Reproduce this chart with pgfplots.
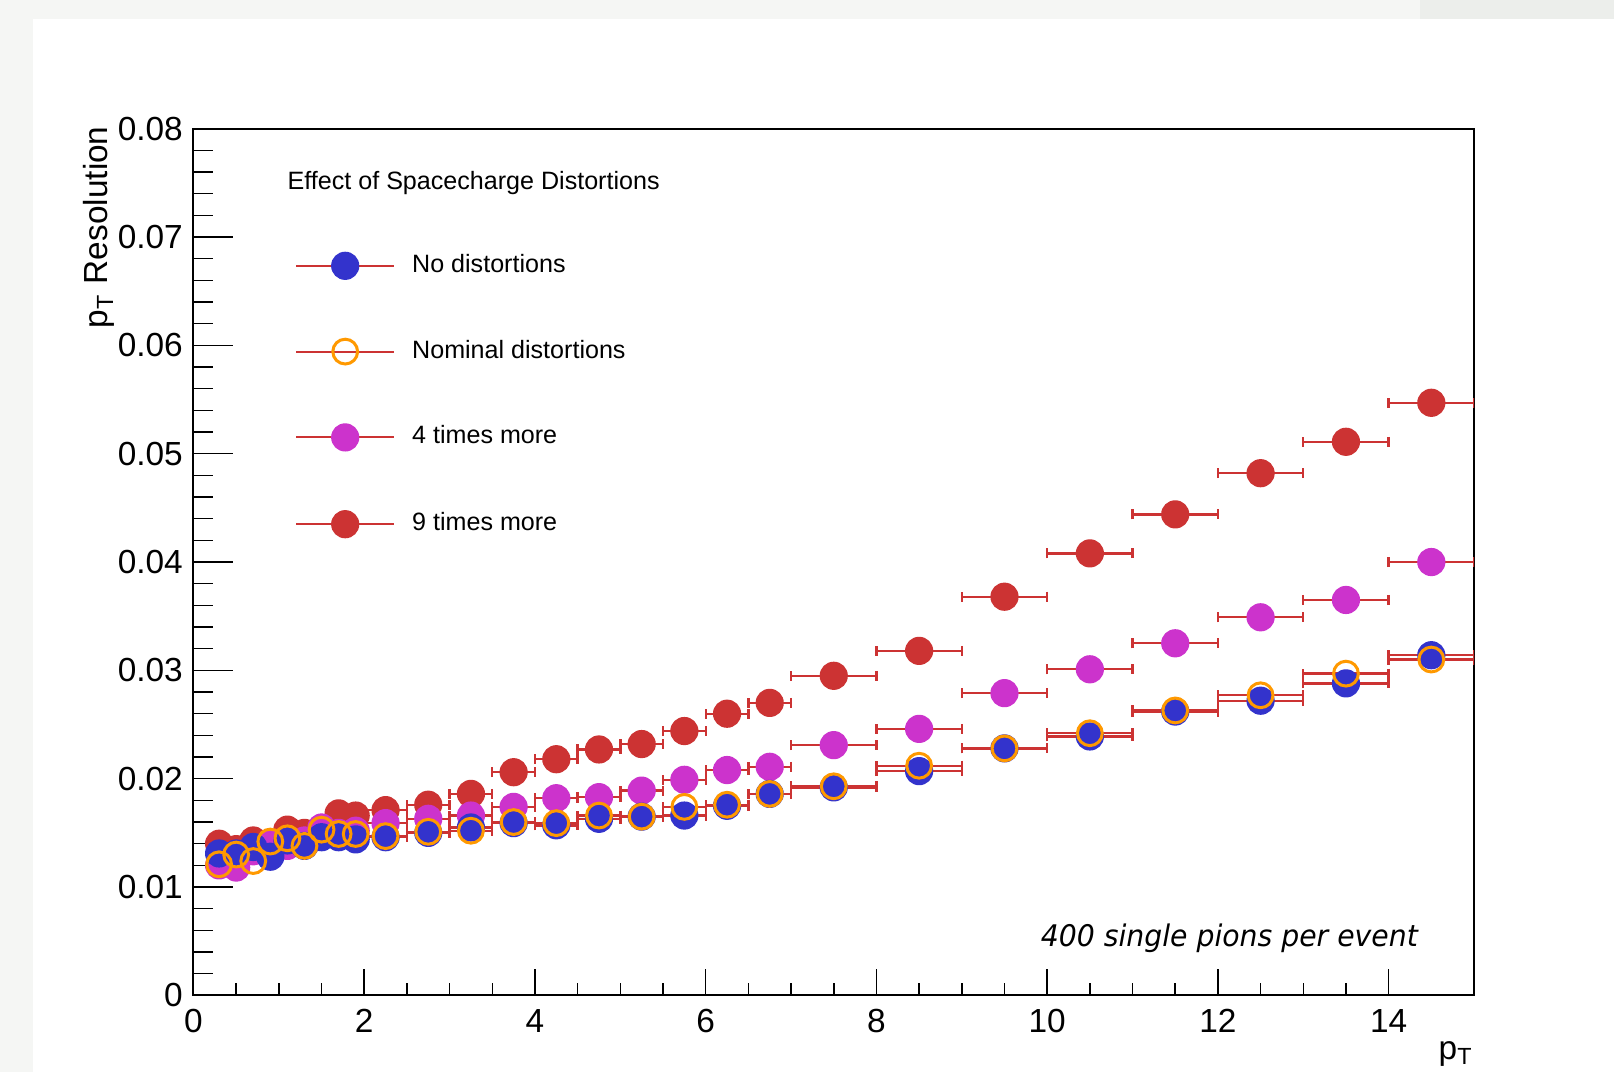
\documentclass[border=0pt]{standalone}
\usepackage{fontspec}
\setmainfont{Liberation Sans}
\newfontfamily\notefont{DejaVu Sans}
\usepackage{pgfplots}
\usepackage{pgfplotstable}
\pgfplotsset{compat=1.18}

\definecolor{rootblue}{RGB}{51,51,204}
\definecolor{rootmag}{RGB}{204,51,204}
\definecolor{rootred}{RGB}{204,51,51}
\definecolor{rootorange}{RGB}{255,153,0}
\definecolor{bggray}{RGB}{245,246,244}
\definecolor{bggrayB}{RGB}{236,238,235}

% pT bin centre, resolution, half bin width
\pgfplotstableread{
x y ex
0.3 0.0131 0.1
0.5 0.0131 0.1
0.7 0.0137 0.1
0.9 0.0128 0.1
1.1 0.0143 0.1
1.3 0.0138 0.1
1.5 0.0146 0.1
1.7 0.0146 0.1
1.9 0.0144 0.1
2.25 0.0146 0.25
2.75 0.0150 0.25
3.25 0.0155 0.25
3.75 0.0159 0.25
4.25 0.0157 0.25
4.75 0.0163 0.25
5.25 0.0165 0.25
5.75 0.0166 0.25
6.25 0.0175 0.25
6.75 0.0186 0.25
7.5 0.0192 0.5
8.5 0.0207 0.5
9.5 0.0228 0.5
10.5 0.0239 0.5
11.5 0.0262 0.5
12.5 0.0272 0.5
13.5 0.0288 0.5
14.5 0.0314 0.5
}\nodist

\pgfplotstableread{
x y ex
0.3 0.0121 0.1
0.5 0.0130 0.1
0.7 0.0124 0.1
0.9 0.0142 0.1
1.1 0.0145 0.1
1.3 0.0138 0.1
1.5 0.0153 0.1
1.7 0.0149 0.1
1.9 0.0149 0.1
2.25 0.0147 0.25
2.75 0.0151 0.25
3.25 0.0152 0.25
3.75 0.0160 0.25
4.25 0.0159 0.25
4.75 0.0166 0.25
5.25 0.0165 0.25
5.75 0.0174 0.25
6.25 0.0176 0.25
6.75 0.0186 0.25
7.5 0.0193 0.5
8.5 0.0212 0.5
9.5 0.0228 0.5
10.5 0.0242 0.5
11.5 0.0263 0.5
12.5 0.0277 0.5
13.5 0.0297 0.5
14.5 0.0310 0.5
}\nominal

\pgfplotstableread{
x y ex
0.3 0.0120 0.1
0.5 0.0118 0.1
0.7 0.0133 0.1
0.9 0.0140 0.1
1.1 0.0138 0.1
1.3 0.0143 0.1
1.5 0.0155 0.1
1.7 0.0150 0.1
1.9 0.0152 0.1
2.25 0.0159 0.25
2.75 0.0163 0.25
3.25 0.0166 0.25
3.75 0.0174 0.25
4.25 0.0182 0.25
4.75 0.0183 0.25
5.25 0.0189 0.25
5.75 0.0199 0.25
6.25 0.0208 0.25
6.75 0.0211 0.25
7.5 0.0231 0.5
8.5 0.0246 0.5
9.5 0.0279 0.5
10.5 0.0301 0.5
11.5 0.0325 0.5
12.5 0.0349 0.5
13.5 0.0365 0.5
14.5 0.0400 0.5
}\fourx

\pgfplotstableread{
x y ex
0.3 0.0140 0.1
0.5 0.0135 0.1
0.7 0.0143 0.1
0.9 0.0140 0.1
1.1 0.0153 0.1
1.3 0.0150 0.1
1.5 0.0153 0.1
1.7 0.0168 0.1
1.9 0.0166 0.1
2.25 0.0171 0.25
2.75 0.0176 0.25
3.25 0.0186 0.25
3.75 0.0206 0.25
4.25 0.0218 0.25
4.75 0.0227 0.25
5.25 0.0232 0.25
5.75 0.0244 0.25
6.25 0.0260 0.25
6.75 0.0270 0.25
7.5 0.0295 0.5
8.5 0.0318 0.5
9.5 0.0368 0.5
10.5 0.0408 0.5
11.5 0.0444 0.5
12.5 0.0482 0.5
13.5 0.0511 0.5
14.5 0.0547 0.5
}\ninex

\pgfplotsset{
  rooterr/.style={only marks,
    error bars/x dir=both, error bars/x explicit,
    error bars/error mark=|,
    error bars/error bar style={rootred, line width=0.24mm},
    error bars/error mark options={rootred, line width=0.24mm, mark size=0.5mm}},
}
\newcommand\legimg[1]{%
  \draw[rootred, line width=0.2mm] (0mm,0mm) -- (9.8mm,0mm);
  \draw[#1] plot coordinates {(4.9mm,0mm)};}

\begin{document}
\begin{tikzpicture}
% canvas
\fill[bggray] (-1.935cm,-0.766cm) rectangle (14.205cm,9.954cm);
\fill[bggrayB] (12.265cm,9.767cm) rectangle (14.205cm,9.954cm);
\fill[white] (-1.6cm,-0.766cm) rectangle (14.205cm,9.767cm);
\begin{axis}[
  scale only axis, width=12.805cm, height=8.667cm,
  xmin=0, xmax=15, ymin=0, ymax=0.08,
  axis line style={line width=0.2mm},
  xtick={0,2,...,14}, minor x tick num=3,
  ytick={0,0.01,...,0.08}, minor y tick num=4,
  yticklabels={0,0.01,0.02,0.03,0.04,0.05,0.06,0.07,0.08},
  scaled y ticks=false,
  tick align=inside, tick pos=left,
  tick style={line width=0.15mm, black},
  xtick style={/pgfplots/major tick length=2.6mm, /pgfplots/minor tick length=1.27mm},
  ytick style={/pgfplots/major tick length=3.9mm, /pgfplots/minor tick length=1.9mm},
  /pgf/number format/assume math mode=true,
  xticklabel style={font=\fontsize{9.5}{11}\selectfont, inner sep=0pt, yshift=-1.3mm},
  yticklabel style={font=\fontsize{9.5}{11}\selectfont, inner sep=0pt, xshift=-1mm},
  xlabel={p\textsubscript{T}},
  xlabel style={font=\fontsize{9.5}{11}\selectfont, inner sep=0pt,
    at={(rel axis cs:1,0)}, anchor=north east, yshift=-4.5mm},
  ylabel={p\textsubscript{T} Resolution},
  ylabel style={font=\fontsize{9.5}{11}\selectfont, inner sep=0pt,
    at={(rel axis cs:0,1)}, anchor=base east, xshift=0.3mm, yshift=8.55mm},
  legend style={at={(rel axis cs:0,1)}, xshift=10.1mm, yshift=-12.3mm,
    anchor=north west, draw=none, fill=none, inner sep=0pt,
    row sep=6.0mm, column sep=1.7mm,
    font=\fontsize{7.14}{8.5}\selectfont, nodes={inner sep=0pt}},
  legend cell align=left,
]
\addlegendimage{legend image code/.code={\legimg{mark=*, mark size=1.34mm, rootblue}}}
\addlegendentry{No distortions}
\addlegendimage{legend image code/.code={\legimg{mark=o, mark size=1.24mm, rootorange, mark options={line width=0.3mm}}}}
\addlegendentry{Nominal distortions}
\addlegendimage{legend image code/.code={\legimg{mark=*, mark size=1.34mm, rootmag}}}
\addlegendentry{4 times more}
\addlegendimage{legend image code/.code={\legimg{mark=*, mark size=1.34mm, rootred}}}
\addlegendentry{9 times more}

\addplot[forget plot, rooterr, rootred, mark=*, mark size=1.34mm]
  table[x=x, y=y, x error=ex] {\ninex};
\addplot[forget plot, rooterr, rootmag, mark=*, mark size=1.34mm]
  table[x=x, y=y, x error=ex] {\fourx};
\addplot[forget plot, rooterr, rootblue, mark=*, mark size=1.34mm]
  table[x=x, y=y, x error=ex] {\nodist};
\addplot[forget plot, rooterr, rootorange, mark=o, mark size=1.24mm, mark options={line width=0.3mm}]
  table[x=x, y=y, x error=ex] {\nominal};

\node[anchor=base west, inner sep=0pt, font=\fontsize{7.14}{8.5}\selectfont]
  at (axis cs:1.095,0.07436) {Effect of Spacecharge Distortions};
\node[anchor=base east, inner sep=0pt, xscale=0.95, font=\notefont\itshape\fontsize{8.47}{10}\selectfont]
  at (axis cs:14.35,0.00449) {400 single pions per event};
\end{axis}
\pgfresetboundingbox
\useasboundingbox (-1.935cm,-0.766cm) rectangle (14.205cm,9.954cm);
\end{tikzpicture}
\end{document}
